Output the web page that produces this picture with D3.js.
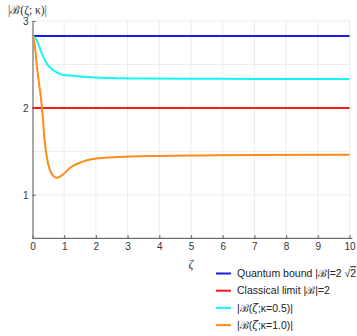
<!DOCTYPE html>
<html>
<head>
<meta charset="utf-8">
<script src="https://cdn.jsdelivr.net/npm/d3@7"></script>
<style>
  body { margin: 0; background: #fff; }
  svg { display: block; }
  .axis path, .axis line { stroke: #6e6e6e; stroke-width: 1.2; }
  .axis text { font-family: "Liberation Sans", Arial, sans-serif; font-size: 10px; fill: #333; }
  .grid line { stroke: #ececec; stroke-width: 1; }
</style>
</head>
<body>
<svg id="chart" width="357" height="336"></svg>
<script>
// values
var xTicks = [0, 1, 2, 3, 4, 5, 6, 7, 8, 9, 10];
var yTicks = [1, 2, 3];
var yGrid = [1, 1.5, 2, 2.5, 3];

var quantumBound = 2.828;
var classicalLimit = 2;

var zetaHalf = [0, 0.13, 0.24, 0.34, 0.45, 0.6, 0.76, 0.97, 1.29, 1.5, 2, 2.5, 3.5, 5, 7, 10];
var curveHalf = [2.828, 2.78, 2.68, 2.587, 2.51, 2.45, 2.41, 2.38, 2.37, 2.362, 2.35, 2.344, 2.338, 2.335, 2.334, 2.333];

var zetaOne = [0, 0.08, 0.13, 0.18, 0.3, 0.38, 0.49, 0.65, 0.75, 0.91, 1.22, 1.54, 1.96, 2.7, 3.1, 4, 5.3, 7, 10];
var curveOne = [2.828, 2.70, 2.51, 2.356, 2.0, 1.63, 1.36, 1.22, 1.196, 1.22, 1.32, 1.376, 1.415, 1.434, 1.44, 1.447, 1.453, 1.458, 1.461];

var svg = d3.select("#chart"),
    margin = {top: 21, right: 7.5, bottom: 97.7, left: 32.5},
    width = +svg.attr("width") - margin.left - margin.right,
    height = +svg.attr("height") - margin.top - margin.bottom,
    g = svg.append("g").attr("transform", "translate(" + margin.left + "," + margin.top + ")");

var x = d3.scaleLinear().domain([0, 10]).range([0, width]);
var y = d3.scaleLinear().domain([0.5, 3]).range([height, 0]);

// grid
g.append("g").attr("class", "grid")
  .selectAll("line").data(xTicks.slice(1)).enter().append("line")
    .attr("x1", function(d) { return x(d); }).attr("x2", function(d) { return x(d); })
    .attr("y1", 0).attr("y2", height);
g.append("g").attr("class", "grid")
  .selectAll("line").data(yGrid).enter().append("line")
    .attr("x1", 0).attr("x2", width)
    .attr("y1", function(d) { return y(d); }).attr("y2", function(d) { return y(d); });

// axes
g.append("g")
    .attr("class", "axis")
    .attr("transform", "translate(0," + height + ")")
    .call(d3.axisBottom(x).tickValues(xTicks).tickSizeInner(-3).tickSizeOuter(0).tickPadding(5))
    .call(function(a) { a.select(".domain").attr("d", "M0,0H" + (width + 3)); });

g.append("g")
    .attr("class", "axis")
    .call(d3.axisLeft(y).tickValues(yTicks).tickFormat(d3.format("d")).tickSizeInner(-3).tickSizeOuter(0).tickPadding(4));

// series
var line = d3.line()
    .x(function(d) { return x(d[0]); })
    .y(function(d) { return y(d[1]); })
    .curve(d3.curveMonotoneX);

var series = [
  {color: "#1a1ae6", pts: [[0, quantumBound], [10, quantumBound]]},
  {color: "#f01c1c", pts: [[0, classicalLimit], [10, classicalLimit]]},
  {color: "#14f5f5", pts: d3.zip(zetaHalf, curveHalf)},
  {color: "#ff8c1a", pts: d3.zip(zetaOne, curveOne)}
];

g.append("g")
  .selectAll("path")
  .data(series)
  .enter().append("path")
    .attr("fill", "none")
    .attr("stroke", function(d) { return d.color; })
    .attr("stroke-width", 2)
    .attr("d", function(d) { return line(d.pts); });

// axis labels
svg.append("text")
    .attr("x", 8).attr("y", 14)
    .attr("font-family", "Liberation Serif, serif")
    .attr("font-size", 11.5)
    .attr("fill", "#333")
    .text("|ℬ(ζ; κ)|");

svg.append("text")
    .attr("x", margin.left + width / 2).attr("y", 268)
    .attr("text-anchor", "middle")
    .attr("font-family", "Liberation Serif, serif")
    .attr("font-style", "italic")
    .attr("font-size", 12)
    .attr("fill", "#333")
    .text("ζ");

// legend
var legendRows = [
  {color: "#1a1ae6", parts: [["Quantum bound |", ""], ["ℬ", "s"], ["|=2 √", ""], ["2", "o"]]},
  {color: "#f01c1c", parts: [["Classical limit |", ""], ["ℬ", "s"], ["|=2", ""]]},
  {color: "#14f5f5", parts: [["|", ""], ["ℬ", "s"], ["(", ""], ["ζ", "i"], [";κ=0.5)|", ""]]},
  {color: "#ff8c1a", parts: [["|", ""], ["ℬ", "s"], ["(", ""], ["ζ", "i"], [";κ=1.0)|", ""]]}
];

var legend = svg.append("g")
    .attr("font-family", "Liberation Sans, Arial, sans-serif")
    .attr("font-size", 10.5)
  .selectAll("g")
  .data(legendRows)
  .enter().append("g")
    .attr("transform", function(d, i) { return "translate(216," + (273.5 + i * 17.2) + ")"; });

legend.append("line")
    .attr("x1", 0).attr("x2", 15)
    .attr("stroke", function(d) { return d.color; })
    .attr("stroke-width", 2);

legend.append("text")
    .attr("x", 21)
    .attr("dy", "0.35em")
    .attr("fill", "#222")
  .selectAll("tspan")
  .data(function(d) { return d.parts; })
  .enter().append("tspan")
    .attr("font-style", function(p) { return p[1] == "i" ? "italic" : null; })
    .attr("font-family", function(p) { return p[1] == "s" || p[1] == "i" ? "DejaVu Serif, serif" : null; })
    .attr("text-decoration", function(p) { return p[1] == "o" ? "overline" : null; })
    .text(function(p) { return p[0]; });
</script>
</body>
</html>
